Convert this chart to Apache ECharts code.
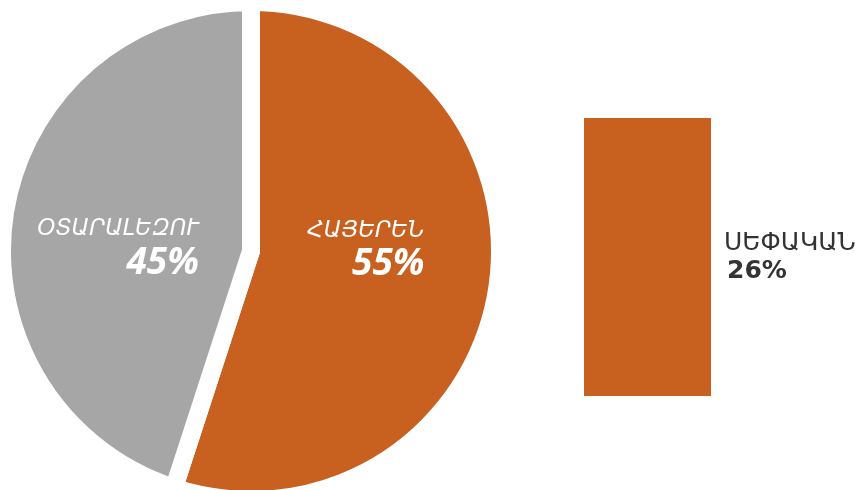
<!DOCTYPE html>
<html>
<head>
<meta charset="utf-8">
<script src="https://cdn.jsdelivr.net/npm/echarts@6/dist/echarts.min.js"></script>
<style>
  html, body { margin: 0; padding: 0; background: #fff; }
  #chart { width: 862px; height: 490px; }
</style>
</head>
<body>
<div id="chart"></div>
<script>
// pie: share of languages
const pieNames = ["ՀԱՅԵՐԵՆ", "ՕՏԱՐԱԼԵԶՈՒ"];
const pieValues = [55, 45];
const pieColors = ["#C8601F", "#A6A6A6"];

// single bar
const barNames = ["ՍԵՓԱԿԱՆ"];
const barValues = [26];

const chart = echarts.init(document.getElementById("chart"));

const pieLabelOffsets = [[-11, -21], [-7, 17]];

chart.setOption({
  backgroundColor: "#fff",
  animation: false,
  grid: { left: 584, width: 127, top: 118, bottom: 94 },
  xAxis: { type: "category", data: barNames, show: false },
  yAxis: { type: "value", min: 0, max: 26, show: false },
  series: [
    {
      type: "pie",
      center: [251, 251],
      radius: 249,
      startAngle: 90,
      clockwise: true,
      silent: true,
      itemStyle: { borderColor: "#fff", borderWidth: 18 },
      labelLine: { show: false },
      data: pieNames.map((name, i) => ({
        name: name,
        value: pieValues[i],
        itemStyle: { color: pieColors[i] },
        label: {
          show: true,
          position: "inside",
          offset: pieLabelOffsets[i],
          formatter: "{n|{b}}\n{p|{d}%}",
          rich: {
            n: {
              fontFamily: "DejaVu Sans",
              fontStyle: "italic",
              fontSize: 23,
              color: "#fff",
              align: "right",
              lineHeight: 30
            },
            p: {
              fontFamily: "Open Sans",
              fontStyle: "italic",
              fontWeight: "bold",
              fontSize: 37,
              color: "#fff",
              align: "right",
              lineHeight: 38
            }
          }
        }
      }))
    },
    {
      type: "bar",
      data: barValues,
      barWidth: 127,
      silent: true,
      itemStyle: { color: "#C8601F" },
      label: {
        show: true,
        position: "right",
        distance: 13,
        formatter: p => "{n|" + p.name + "}\n{p|" + p.value + "%}",
        rich: {
          n: {
            fontFamily: "DejaVu Sans",
            fontSize: 25,
            color: "#333",
            lineHeight: 28
          },
          p: {
            fontFamily: "DejaVu Sans",
            fontWeight: "bold",
            fontSize: 25,
            color: "#333",
            lineHeight: 28,
            padding: [0, 0, 0, 3]
          }
        }
      }
    }
  ]
});
</script>
</body>
</html>
